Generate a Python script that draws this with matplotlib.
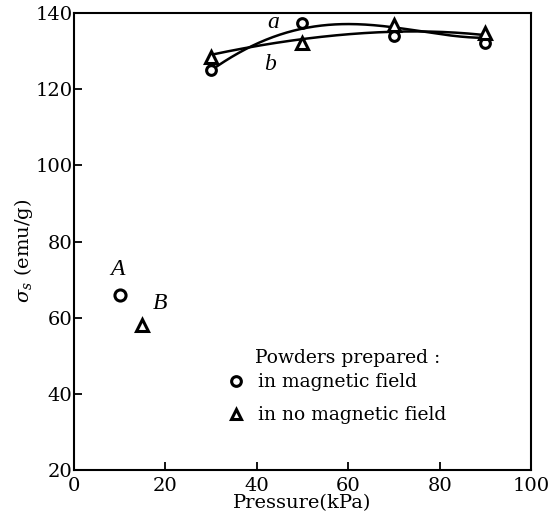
import numpy as np
import matplotlib
matplotlib.use("Agg")
import matplotlib.pyplot as plt

plt.rcParams['font.family'] = ['DejaVu Serif']
plt.rcParams['mathtext.fontset'] = 'dejavuserif'

# measured points
pressure = [30, 50, 70, 90]
sigma_a = [125.0, 137.5, 134.0, 132.2]   # circles: in magnetic field
sigma_b = [128.5, 132.2, 136.8, 134.8]   # triangles: no magnetic field
# hand-drawn trend curves
curve_x = [30, 40, 50, 60, 70, 80, 90]
curve_a = [125.0, 131.6, 136.3, 137.1, 135.8, 134.8, 133.4]
curve_b = [129.0, 131.4, 133.1, 134.3, 135.3, 134.9, 134.2]
# isolated points A and B
pA = (10, 66)
pB = (15, 58)

fig = plt.figure(figsize=(5.55, 5.19), dpi=100)
ax = fig.add_axes([0.133, 0.094, 0.824, 0.881])

xs = np.linspace(30, 90, 200)
for cy in (curve_a, curve_b):
    coef = np.polyfit(curve_x, cy, 4)
    ax.plot(xs, np.polyval(coef, xs), color='black', lw=1.8)

mk = dict(linestyle='none', markerfacecolor='white', markeredgecolor='black',
          markeredgewidth=2.2, color='black')
ax.plot(pressure, sigma_a, marker='o', markersize=7, **mk, zorder=3)
ax.plot(pressure, sigma_b, marker='^', markersize=8, **mk, zorder=3)
ax.plot([pA[0]], [pA[1]], marker='o', markersize=8, **mk)
ax.plot([pB[0]], [pB[1]], marker='^', markersize=8, **mk)

it = dict(family='Liberation Serif', style='italic', fontsize=17, ha='center', va='center')
ax.text(43.6, 137.6, 'a', **it)
ax.text(43.0, 126.6, 'b', **it)
ax.text(9.6, 72.8, 'A', **it)
ax.text(18.9, 63.8, 'B', **it)

# legend as text
ax.text(39.6, 49.5, 'Powders prepared :', fontsize=13.5, va='center', ha='left')
ax.plot([35.5], [43.4], marker='o', markersize=7, **mk)
ax.text(40.3, 43.2, 'in magnetic field', fontsize=13.5, va='center', ha='left')
ax.plot([35.5], [34.8], marker='^', markersize=7, **mk)
ax.text(40.3, 34.6, 'in no magnetic field', fontsize=13.5, va='center', ha='left')

ax.set_xlim(0, 100)
ax.set_ylim(20, 140)
ax.set_xticks([0, 20, 40, 60, 80, 100])
ax.set_yticks([20, 40, 60, 80, 100, 120, 140])
ax.tick_params(direction='in', length=6, width=1.3, labelsize=14)
ax.tick_params(axis='x', pad=5)
ax.tick_params(axis='y', pad=1)
for s in ax.spines.values():
    s.set_linewidth(1.5)
ax.set_xlabel('Pressure(kPa)', fontsize=14, labelpad=-1)
ax.set_ylabel(r'$\sigma_s$ (emu/g)', fontsize=14)
ax.yaxis.set_label_coords(-0.085, 0.48)

fig.savefig('out.png', dpi=100)
